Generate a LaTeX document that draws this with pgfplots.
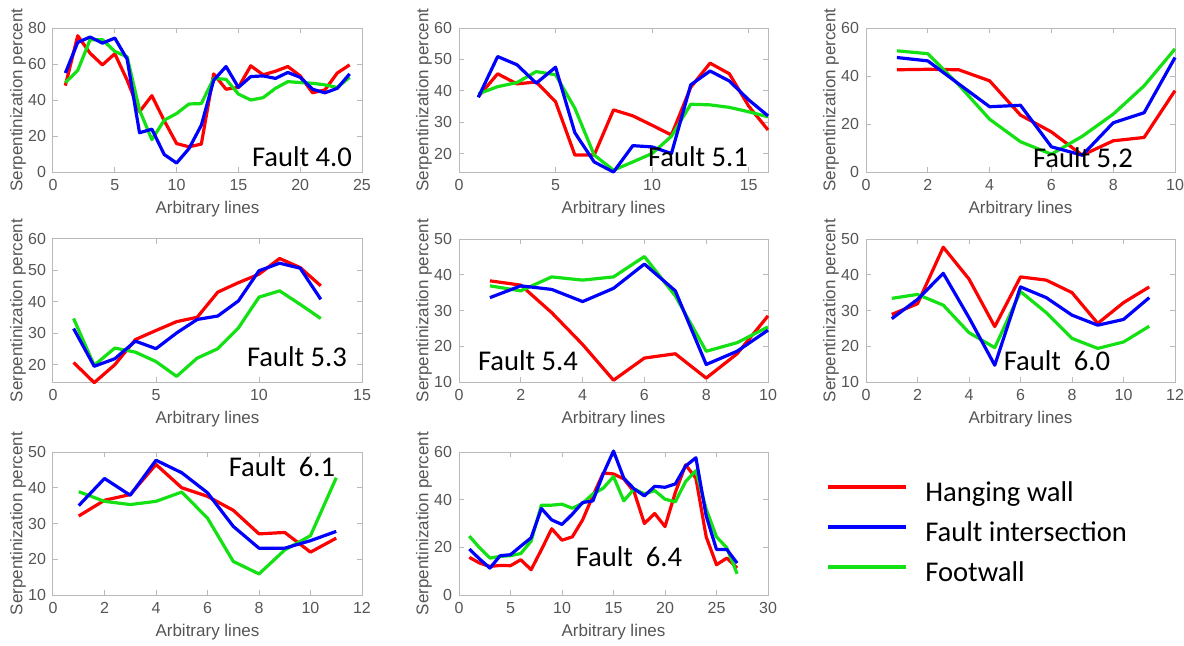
\documentclass[border=0pt]{standalone}
\usepackage{fontspec}
\setmainfont{Liberation Sans}
\newfontfamily\calibri{Carlito}
\usepackage{pgfplots}
\usepackage{pgfplotstable}
\pgfplotsset{compat=1.18}

\definecolor{hwred}{RGB}{255,0,0}
\definecolor{fiblue}{RGB}{0,0,255}
\definecolor{fwgreen}{RGB}{20,225,20}
\definecolor{axgray}{RGB}{85,85,85}

% columns: line, hanging wall, fault intersection, footwall
\pgfplotstableread{
x h f w
1 48 55 49.7
2 75.7 72 56.4
3 66 75 73.5
4 59.5 71.6 73.5
5 65.7 74.4 67
6 51 62.7 64
7 33.5 21.8 34.4
8 42.4 23.8 18
9 28.5 9.7 28.8
10 15.8 5 32.5
11 14 13 37.8
12 15.5 26 38
13 54.5 51 52
14 46 58.6 51.5
15 47 47 43.3
16 59 53 40
17 54 53.4 41.3
18 56 52 46.5
19 58.6 55.3 50.2
20 53.4 52.6 49.7
21 44 46 49.3
22 45.6 44 48.4
23 55 46.5 47
24 59.5 54.5 52.6
}\tA
\pgfplotstableread{
x h f w
1 38.1 37.9 39
2 45.4 50.9 41.3
3 42.2 48.3 42.6
4 42.8 42.4 46.1
5 36.5 47.5 45.1
6 19.5 26.6 34.4
7 19.5 17.3 19.5
8 33.9 14.1 14.7
9 32 22.5 17.3
10 29 22.1 20
11 25.9 20 25.5
12 41.1 41.9 35.7
13 48.8 46.3 35.5
14 45.4 43.1 34.7
15 35.1 37.1 33.3
16 27.5 32 31.7
}\tB
\pgfplotstableread{
x h f w
1 42.6 47.7 50.5
2 42.8 46.3 49.3
3 42.6 36.7 36.3
4 38 27.2 22
5 23.7 27.8 12.6
6 16.7 10.5 7.4
7 7 7 14.9
8 13 20.5 24.1
9 14.4 24.7 35.9
10 33.9 47.7 51.3
}\tC
\pgfplotstableread{
x h f w
1 20.7 31.5 34.7
2 14.3 19.5 19.8
3 20 21.9 25.3
4 28 27.5 24
5 30.9 25.1 21
6 33.7 30.1 16.3
7 35.1 34.4 22.1
8 43.1 35.5 25.1
9 46.1 40.3 31.7
10 48.8 49.9 41.5
11 53.8 52.3 43.5
12 50.9 50.7 39.2
13 45.1 40.8 34.7
}\tD
\pgfplotstableread{
x h f w
1 38.3 33.6 36.9
2 37.1 36.9 35.5
3 29.4 35.9 39.4
4 20.5 32.5 38.5
5 10.5 36.2 39.4
6 16.7 43 45.1
7 17.9 35.5 34.1
8 11.1 14.9 18.6
9 17.9 18.6 21
10 28.5 24.5 25.4
}\tE
\pgfplotstableread{
x h f w
1 28.9 27.7 33.4
2 31.9 33.1 34.5
3 47.7 40.4 31.5
4 38.8 28 23.8
5 25.5 14.7 19.6
6 39.4 36.6 35.3
7 38.5 33.6 29.4
8 35 28.7 22.2
9 26.4 25.9 19.4
10 32.2 27.5 21.2
11 36.6 33.6 25.6
}\tF
\pgfplotstableread{
x h f w
1 32.1 35 38.9
2 36.5 42.6 36.2
3 38.1 37.9 35.3
4 46.5 47.7 36.2
5 40 44.2 38.8
6 37.6 38.6 31.5
7 33.7 29.2 19.4
8 27.1 23.1 15.9
9 27.5 23.1 22.6
10 22 25.2 26.6
11 25.9 27.8 42.8
}\tG
\pgfplotstableread{
x h f w
1 15.8 19.3 24.7
2 13.4 15.1 19.8
3 12 11.3 15.5
4 12.4 16.5 16.2
5 12.3 16.9 16.5
6 14.8 20.5 17.4
7 10.6 24 22.6
8 19 36.3 37.7
9 27.8 31.5 37.7
10 23 29.6 38.1
11 24.4 33.9 36.4
12 31.5 38.8 38.5
13 41.6 39.5 42.4
14 51.2 50.8 44.8
15 50.8 60.4 49.7
16 48.7 49 39.5
17 43.3 44.5 44.5
18 30 41.6 42.4
19 34.2 45.6 43.8
20 28.7 45.2 40.2
21 43 46.6 39.1
22 54.6 54.1 47.6
23 49 57.6 52.2
24 24.4 33.2 36
25 12.7 19.1 24.4
26 15.5 19.1 19.8
27 11.3 13.4 8.9
}\tH

\pgfplotsset{
  panel/.style={
    scale only axis, width=154.5pt, height=71.5pt,
    anchor=south west,
    axis line style={gray!55, line width=0.5pt},
    tick style={gray!55, line width=0.5pt},
    tick align=inside, major tick length=2.5pt,
    ticklabel style={font=\fontsize{8}{9}\selectfont, text=axgray},
    /pgf/number format/assume math mode=true,
    label style={font=\fontsize{8.5}{10}\selectfont, text=axgray},
    xlabel={Arbitrary lines}, ylabel={Serpentinization percent},
    xlabel style={at={(axis description cs:0.5,-0.26)}, anchor=center},
    ylabel style={at={(axis description cs:-0.113,0.5)}, anchor=center},
    clip=false,
    every axis plot/.append style={line width=1.6pt, line join=round},
  },
}
\tikzset{fault/.style={font=\calibri\fontsize{14.3}{16}\selectfont}}

\newcommand{\threelines}[1]{%
  \addplot[hwred] table[x=x, y=h] {#1};
  \addplot[fwgreen] table[x=x, y=w] {#1};
  \addplot[fiblue] table[x=x, y=f] {#1};
}

\begin{document}
\begin{tikzpicture}
\useasboundingbox (0pt,0pt) rectangle (592pt,322.5pt);

% top row
\begin{axis}[panel, at={(26.5pt,236.5pt)}, height=72pt,
  xmin=0, xmax=25, xtick={0,5,...,25}, ymin=0, ymax=80, ytick={0,20,...,80}]
\threelines{\tA}
\end{axis}
\begin{axis}[panel, at={(229.5pt,236.5pt)}, height=72pt,
  xmin=0, xmax=16, xtick={0,5,10,15}, ymin=14.1, ymax=60, ytick={20,30,...,60}]
\threelines{\tB}
\end{axis}
\begin{axis}[panel, at={(433pt,236.5pt)}, height=72pt,
  xmin=0, xmax=10, xtick={0,2,...,10}, ymin=0, ymax=60, ytick={0,20,40,60}]
\threelines{\tC}
\end{axis}

% middle row
\begin{axis}[panel, at={(26.5pt,131.5pt)},
  xmin=0, xmax=15, xtick={0,5,10,15}, ymin=14.5, ymax=60, ytick={20,30,...,60}]
\threelines{\tD}
\end{axis}
\begin{axis}[panel, at={(229.5pt,131.5pt)},
  xmin=0, xmax=10, xtick={0,2,...,10}, ymin=10, ymax=50, ytick={10,20,...,50}]
\threelines{\tE}
\end{axis}
\begin{axis}[panel, at={(433pt,131.5pt)},
  xmin=0, xmax=12, xtick={0,2,...,12}, ymin=10, ymax=50, ytick={10,20,...,50}]
\threelines{\tF}
\end{axis}

% bottom row
\begin{axis}[panel, at={(26.5pt,25pt)},
  xmin=0, xmax=12, xtick={0,2,...,12}, ymin=10, ymax=50, ytick={10,20,...,50}]
\threelines{\tG}
\end{axis}
\begin{axis}[panel, at={(229.5pt,25pt)},
  xmin=0, xmax=30, xtick={0,5,...,30}, ymin=0, ymax=60, ytick={0,20,40,60},
  legend style={at={(1.168,0.42)}, anchor=west, draw=none, fill=none,
    font=\calibri\fontsize{14.3}{16}\selectfont, row sep=7pt, column sep=8.5pt,
    nodes={inner sep=0pt, text height=10pt, text depth=3pt}},
  legend cell align=left,
  legend image code/.code={\draw[#1, line width=2pt] (0pt,4pt) -- (39pt,4pt);}]
\addplot[hwred, forget plot] table[x=x, y=h] {\tH};
\addplot[fwgreen, forget plot] table[x=x, y=w] {\tH};
\addplot[fiblue, forget plot] table[x=x, y=f] {\tH};
\addlegendimage{hwred}
\addlegendentry{Hanging wall}
\addlegendimage{fiblue}
\addlegendentry{Fault intersection}
\addlegendimage{fwgreen}
\addlegendentry{Footwall}
\end{axis}

% panel names
\node[fault] at (151pt,244pt) {Fault 4.0};
\node[fault] at (349pt,244pt) {Fault 5.1};
\node[fault] at (541.5pt,243.5pt) {Fault 5.2};
\node[fault] at (148.5pt,144pt) {Fault 5.3};
\node[fault] at (264pt,142pt) {Fault 5.4};
\node[fault] at (528.5pt,142pt) {Fault\ \ 6.0};
\node[fault] at (141pt,89pt) {Fault\ \ 6.1};
\node[fault] at (314.5pt,44pt) {Fault\ \ 6.4};
\end{tikzpicture}
\end{document}
